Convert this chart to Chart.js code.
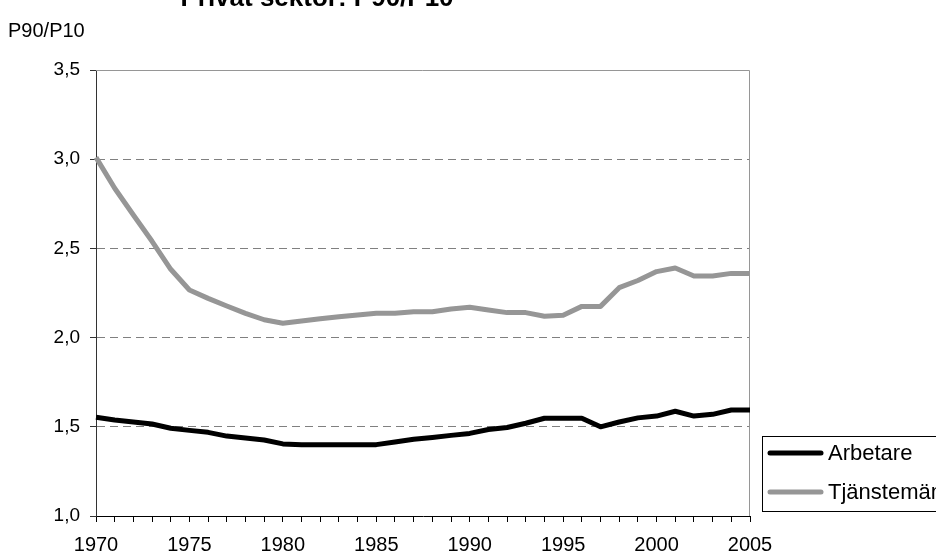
<!DOCTYPE html>
<html lang="sv">
<head>
    <meta charset="UTF-8">
    <title>Privat sektor: P90/P10</title>
    <script src="https://cdn.jsdelivr.net/npm/chart.js"></script>
    <style>
        html, body { margin: 0; padding: 0; background: #fff; }
        #wrap { width: 936px; height: 554px; position: relative; overflow: hidden; }
    </style>
</head>
<body>
<div id="wrap"><canvas id="chart" width="936" height="554"></canvas></div>
<script>
    // Years on the category axis
    const years = [];
    for (let y = 1970; y <= 2005; y++) years.push(String(y));

    // Values
    const arbetare = [1.553, 1.538, 1.527, 1.516, 1.492, 1.48, 1.469, 1.448, 1.437, 1.426,
        1.404, 1.40, 1.40, 1.40, 1.40, 1.40, 1.415, 1.43, 1.44, 1.452,
        1.463, 1.485, 1.496, 1.52, 1.548, 1.548, 1.548, 1.50, 1.527, 1.55,
        1.56, 1.587, 1.56, 1.57, 1.594, 1.594];
    const tjanstemann = [3.01, 2.837, 2.687, 2.54, 2.383, 2.267, 2.22, 2.177, 2.136, 2.10,
        2.08, 2.093, 2.106, 2.117, 2.127, 2.136, 2.136, 2.145, 2.145, 2.16,
        2.17, 2.155, 2.14, 2.14, 2.12, 2.125, 2.175, 2.175, 2.28, 2.32,
        2.37, 2.39, 2.345, 2.345, 2.36, 2.36];

    const yTicks = [1.0, 1.5, 2.0, 2.5, 3.0, 3.5];
    const chartTitle = 'Privat sektor: P90/P10';
    const yTitle = 'P90/P10';

    const FONT = '"Liberation Sans", Arial, sans-serif';
    Chart.defaults.font.family = FONT;
    Chart.defaults.color = '#000';

    // plot frame (top + right), title, y title and legend box
    const extras = {
        id: 'extras',
        beforeDatasetsDraw(chart) {
            const a = chart.chartArea, ctx = chart.ctx;
            ctx.save();
            ctx.strokeStyle = '#969696';
            ctx.lineWidth = 1;
            ctx.beginPath();
            ctx.moveTo(a.left, a.top + 0.5);
            ctx.lineTo(a.right - 0.5, a.top + 0.5);
            ctx.lineTo(a.right - 0.5, a.bottom);
            ctx.stroke();
            ctx.restore();
        },
        afterDraw(chart) {
            const ctx = chart.ctx;
            ctx.save();
            ctx.fillStyle = '#000';
            ctx.font = 'bold 26px ' + FONT;
            ctx.textAlign = 'center';
            ctx.textBaseline = 'alphabetic';
            ctx.fillText(chartTitle, 317, 6);

            ctx.font = '20px ' + FONT;
            ctx.textAlign = 'left';
            ctx.textBaseline = 'middle';
            ctx.fillText(yTitle, 8, 31);

            // legend
            ctx.strokeStyle = '#000';
            ctx.lineWidth = 1;
            ctx.strokeRect(762.5, 436.5, 220, 75);
            const rows = [453, 492];
            chart.data.datasets.forEach((ds, i) => {
                ctx.strokeStyle = ds.borderColor;
                ctx.lineWidth = 5;
                ctx.lineCap = 'round';
                ctx.beginPath();
                ctx.moveTo(770, rows[i]);
                ctx.lineTo(821, rows[i]);
                ctx.stroke();
                ctx.fillStyle = '#000';
                ctx.font = '22px ' + FONT;
                ctx.fillText(ds.label, 828, rows[i] + 1);
            });
            ctx.restore();
        }
    };

    new Chart(document.getElementById('chart'), {
        type: 'line',
        data: {
            labels: years,
            datasets: [
                {
                    label: 'Arbetare',
                    data: arbetare,
                    borderColor: '#000000',
                    borderWidth: 5,
                    pointRadius: 0,
                    tension: 0,
                    borderJoinStyle: 'round'
                },
                {
                    label: 'Tjänstemän',
                    data: tjanstemann,
                    borderColor: '#969696',
                    borderWidth: 5,
                    pointRadius: 0,
                    tension: 0,
                    borderJoinStyle: 'round'
                }
            ]
        },
        options: {
            responsive: false,
            animation: false,
            layout: { padding: { top: 70, right: 186, left: 0, bottom: 0 } },
            plugins: {
                legend: { display: false },
                title: { display: false },
                tooltip: { enabled: false }
            },
            scales: {
                x: {
                    offset: false,
                    afterFit: (s) => { s.height = 38; },
                    grid: {
                        drawOnChartArea: false,
                        tickLength: 6,
                        tickColor: '#000'
                    },
                    border: { color: '#000', width: 1 },
                    ticks: {
                        autoSkip: false,
                        maxRotation: 0,
                        padding: 11,
                        font: { size: 20 },
                        callback: function (value, index) {
                            const y = years[index];
                            return Number(y) % 5 === 0 ? y : '';
                        }
                    }
                },
                y: {
                    min: 1.0,
                    max: 3.5,
                    afterFit: (s) => { s.width = 96; },
                    afterBuildTicks: (s) => { s.ticks = yTicks.map(v => ({ value: v })); },
                    grid: {
                        color: (c) => (c.tick && (c.tick.value === 1.0 || c.tick.value === 3.5)) ? 'rgba(0,0,0,0)' : '#808080',
                        tickColor: '#333',
                        tickLength: 6,
                        lineWidth: 1
                    },
                    border: { color: '#333', width: 1, dash: [8, 5] },
                    ticks: {
                        padding: 10,
                        font: { size: 19 },
                        callback: (v) => v.toFixed(1).replace('.', ',')
                    }
                }
            }
        },
        plugins: [extras]
    });
</script>
</body>
</html>
